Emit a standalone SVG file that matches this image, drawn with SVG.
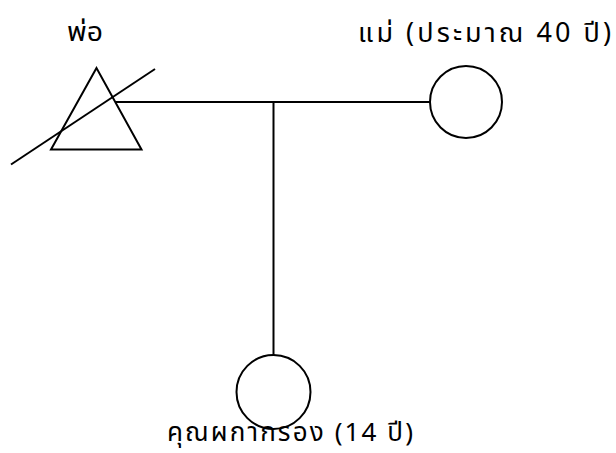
<svg xmlns="http://www.w3.org/2000/svg" width="616" height="453" viewBox="0 0 616 453">
<style>
.ln{stroke:#000;stroke-width:2;fill:none}
.sh{stroke:#000;stroke-width:2;fill:none}
.lb{font-family:"Noto Sans Thai","Noto Sans",sans-serif;font-size:27px;fill:#000}
</style>
<rect width="616" height="453" fill="#fff"/>
<g id="connectors">
<line class="ln" x1="116" y1="102" x2="430" y2="102"/>
<line class="ln" x1="273.5" y1="102" x2="273.5" y2="356"/>
</g>
<g id="father">
<polygon class="sh" points="96.5,68 51,149.5 141.5,149.5"/>
<line class="ln" x1="11" y1="164.5" x2="155" y2="69"/>
<text class="lb" x="67" y="41" textLength="36" lengthAdjust="spacingAndGlyphs">พ่อ</text>
</g>
<g id="mother">
<circle class="sh" cx="466" cy="102" r="36"/>
<text class="lb" x="358" y="42" textLength="253" lengthAdjust="spacing">แม่ (ประมาณ 40 ปี)</text>
</g>
<g id="child">
<circle class="sh" cx="273.5" cy="392" r="37"/>
<text class="lb" x="167" y="441" style="font-size:26px" textLength="246" lengthAdjust="spacing">คุณผกากรอง (14 ปี)</text>
</g>
</svg>
